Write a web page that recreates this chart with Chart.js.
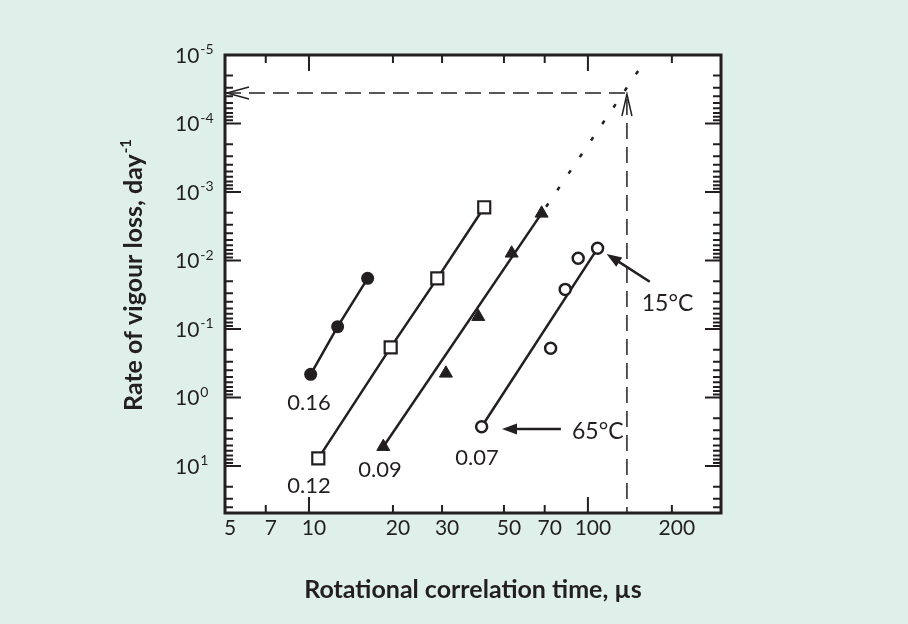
<!DOCTYPE html>
<html><head><meta charset="utf-8">
<style>
html,body{margin:0;padding:0;background:#dff0ea;}
#wrap{width:908px;height:624px;position:relative;}
</style>
<script src="https://cdn.jsdelivr.net/npm/chart.js@4.4.1/dist/chart.umd.min.js"></script>
</head><body><div id="wrap"><canvas id="c" width="908" height="624"></canvas></div>
<script>
// ---- tick values ----
const xTickValues = [5, 7, 10, 20, 30, 50, 70, 100, 200];
const xMajorTicks = [10, 100];
const xMinorTicks = [7, 20, 30, 50, 70, 200];
const yDecadeExponents = [-5, -4, -3, -2, -1, 0, 1];

// ---- series (x: rotational correlation time, µs; y: axis value) ----
const s016X = [10.14, 12.67, 16.23];
const s016Y = [0.458, 0.0925, 0.0182];
const s012X = [10.80, 19.63, 28.84, 42.49];
const s012Y = [7.73, 0.185, 0.0182, 0.00167];
const s009X = [18.47, 30.97, 40.45, 53.28, 68.23];
const s009Y = [5.22, 0.444, 0.0661, 0.00785, 0.00205];
const s009FitX = [18.47, 68.23];
const s009FitY = [5.22, 0.00205];
const s009ExtX = [68.23, 153.6];
const s009ExtY = [0.00205, 1.57e-5];
const s007X = [41.59, 73.5, 82.9, 92.3, 108.3];
const s007Y = [2.67, 0.191, 0.0264, 0.00929, 0.00664];
const s007FitX = [41.59, 108.3];
const s007FitY = [2.67, 0.00664];
const guideX = [5, 138, 138];
const guideY = [3.59e-5, 3.59e-5, 48.5];

// ---- text annotations ----
const seriesLabels = ['0.16', '0.12', '0.09', '0.07'];
const seriesLabelX = [10.0, 10.0, 17.97, 40.0];
const seriesLabelY = [1.18, 19.3, 11.4, 7.52];
const tempLabels = ['65°C', '15°C'];
const tempTextX = [87.7, 156];
const tempTextY = [3.19, 0.0432];
const tempArrowFromX = [80, 166.7];
const tempArrowFromY = [2.88, 0.0204];
const tempArrowToX = [49.2, 116.7];
const tempArrowToY = [2.88, 0.00803];

const X_MIN = 5, X_MAX = 300, Y_MIN = 1e-5, Y_MAX = 48.5;
const INK = '#231f20';
const FONT = "Lato, 'Open Sans', 'DejaVu Sans', sans-serif";
const pts = (xs, ys) => xs.map((x, i) => ({x, y: ys[i]}));

function arrowHead(ctx, fx, fy, tx, ty, len, half, filled) {
  const ang = Math.atan2(ty - fy, tx - fx);
  const bx = tx - Math.cos(ang) * len, by = ty - Math.sin(ang) * len;
  const px = -Math.sin(ang) * half, py = Math.cos(ang) * half;
  ctx.beginPath();
  ctx.moveTo(bx + px, by + py);
  ctx.lineTo(tx, ty);
  ctx.lineTo(bx - px, by - py);
  if (filled) { ctx.closePath(); ctx.fill(); } else ctx.stroke();
}

const decorations = {
  id: 'decorations',
  beforeDraw(chart) {
    const {ctx, chartArea: a} = chart;
    ctx.save();
    ctx.fillStyle = '#ffffff';
    ctx.fillRect(a.left, a.top, a.right - a.left, a.bottom - a.top);
    ctx.restore();
  },
  afterDatasetsDraw(chart) {
    const {ctx, chartArea: a, scales: {x, y}} = chart;
    ctx.save();
    ctx.strokeStyle = INK; ctx.fillStyle = INK;
    // inward tick marks
    ctx.lineWidth = 2;
    ctx.beginPath();
    yDecadeExponents.forEach(e => {
      const py = y.getPixelForValue(Math.pow(10, e));
      ctx.moveTo(a.left, py); ctx.lineTo(a.left + 16, py);
      ctx.moveTo(a.right, py); ctx.lineTo(a.right - 16, py);
      for (let m = 2; m <= 9; m++) {
        const v = m * Math.pow(10, e);
        if (v > Y_MAX) break;
        const q = y.getPixelForValue(v);
        ctx.moveTo(a.left, q); ctx.lineTo(a.left + 8, q);
        ctx.moveTo(a.right, q); ctx.lineTo(a.right - 8, q);
      }
    });
    xMajorTicks.forEach(v => {
      const px = x.getPixelForValue(v);
      ctx.moveTo(px, a.bottom); ctx.lineTo(px, a.bottom - 16);
      ctx.moveTo(px, a.top); ctx.lineTo(px, a.top + 16);
    });
    xMinorTicks.forEach(v => {
      const px = x.getPixelForValue(v);
      ctx.moveTo(px, a.bottom); ctx.lineTo(px, a.bottom - 8);
      ctx.moveTo(px, a.top); ctx.lineTo(px, a.top + 8);
    });
    ctx.stroke();
    // frame
    ctx.lineWidth = 3;
    ctx.strokeRect(a.left, a.top, a.right - a.left, a.bottom - a.top);

    // guide arrowheads (open)
    ctx.lineWidth = 1.5;
    const gx0 = x.getPixelForValue(guideX[0]), gy0 = y.getPixelForValue(guideY[0]);
    const gx1 = x.getPixelForValue(guideX[1]), gy1 = y.getPixelForValue(guideY[1]);
    const gy2 = y.getPixelForValue(guideY[2]);
    arrowHead(ctx, gx0 + 40, gy0, gx0 + 2, gy0, 22, 6, false);
    arrowHead(ctx, gx1, gy2, gx1, gy1 + 1, 22, 5, false);

    // temperature arrows (filled heads)
    ctx.lineWidth = 2.5;
    for (let i = 0; i < tempLabels.length; i++) {
      const fx = x.getPixelForValue(tempArrowFromX[i]), fy = y.getPixelForValue(tempArrowFromY[i]);
      const tx = x.getPixelForValue(tempArrowToX[i]), ty = y.getPixelForValue(tempArrowToY[i]);
      const ang = Math.atan2(ty - fy, tx - fx);
      ctx.beginPath(); ctx.moveTo(fx, fy);
      ctx.lineTo(tx - Math.cos(ang) * 10, ty - Math.sin(ang) * 10); ctx.stroke();
      arrowHead(ctx, fx, fy, tx, ty, 15, 5.5, true);
    }

    // texts
    ctx.font = `22px ${FONT}`;
    ctx.textBaseline = 'middle';
    ctx.textAlign = 'center';
    seriesLabels.forEach((t, i) => {
      ctx.fillText(t, x.getPixelForValue(seriesLabelX[i]), y.getPixelForValue(seriesLabelY[i]));
    });
    ctx.textAlign = 'left';
    ctx.font = `23px ${FONT}`;
    tempLabels.forEach((t, i) => {
      ctx.fillText(t, x.getPixelForValue(tempTextX[i]), y.getPixelForValue(tempTextY[i]));
    });

    // y tick labels: 10 with superscript exponent
    yDecadeExponents.forEach(e => {
      const py = y.getPixelForValue(Math.pow(10, e));
      ctx.font = `21px ${FONT}`;
      ctx.textBaseline = 'middle';
      ctx.textAlign = 'left';
      const lx = 175;
      ctx.fillText('10', lx, py + 1);
      const w = ctx.measureText('10').width;
      ctx.font = `14px ${FONT}`;
      ctx.textBaseline = 'alphabetic';
      ctx.fillText(e < 0 ? '-' + Math.abs(e) : String(e), lx + w + 1, py - 1);
    });

    // y axis title (rotated)
    ctx.save();
    ctx.translate(133, 275);
    ctx.rotate(-Math.PI / 2);
    const main = 'Rate of vigour loss, day';
    const sup = '-1';
    ctx.font = `bold 25px ${FONT}`;
    const mw = ctx.measureText(main).width;
    ctx.font = `bold 15px ${FONT}`;
    const sw = ctx.measureText(sup).width;
    const start = -(mw + sw + 1) / 2;
    ctx.font = `bold 25px ${FONT}`;
    ctx.textAlign = 'left';
    ctx.textBaseline = 'alphabetic';
    ctx.fillText(main, start, 9);
    ctx.font = `bold 15px ${FONT}`;
    ctx.fillText(sup, start + mw + 1, -2);
    ctx.restore();

    ctx.restore();
  }
};

const lineStyle = {showLine: true, borderColor: INK, borderWidth: 2.5, pointRadius: 0, pointHoverRadius: 0};

new Chart(document.getElementById('c'), {
  type: 'scatter',
  data: {
    datasets: [
      {label: '0.07 points', data: pts(s007X, s007Y), showLine: false, pointStyle: 'circle', pointRadius: 5.5,
       pointBackgroundColor: '#ffffff', pointBorderColor: INK, pointBorderWidth: 2.5},
      {label: '0.09 points', data: pts(s009X, s009Y), showLine: false, pointStyle: 'triangle', pointRadius: 7.5,
       pointBackgroundColor: INK, pointBorderColor: INK, pointBorderWidth: 1},
      {label: '0.12', data: pts(s012X, s012Y), showLine: true, borderColor: INK, borderWidth: 2.5,
       pointStyle: 'rect', pointRadius: 8.5, pointBackgroundColor: '#ffffff', pointBorderColor: INK, pointBorderWidth: 2.2},
      {label: '0.16', data: pts(s016X, s016Y), showLine: true, borderColor: INK, borderWidth: 2.5,
       pointStyle: 'circle', pointRadius: 6.5, pointBackgroundColor: INK, pointBorderColor: INK, pointBorderWidth: 0},
      {label: '0.07 fit', data: pts(s007FitX, s007FitY), ...lineStyle},
      {label: '0.09 fit', data: pts(s009FitX, s009FitY), ...lineStyle},
      {label: '0.09 extrapolation', data: pts(s009ExtX, s009ExtY), ...lineStyle, borderDash: [4, 16], borderDashOffset: -8},
      {label: 'guide', data: pts(guideX, guideY), ...lineStyle, borderWidth: 1.5, borderDash: [16, 8]}
    ]
  },
  options: {
    responsive: false,
    animation: false,
    layout: {padding: {left: 0, right: 187, top: 55, bottom: 0}},
    plugins: {legend: {display: false}, tooltip: {enabled: false}},
    scales: {
      x: {
        type: 'logarithmic', min: X_MIN, max: X_MAX, bounds: 'data',
        grid: {display: false, drawTicks: false}, border: {display: false},
        afterBuildTicks: s => { s.ticks = xTickValues.map(v => ({value: v})); },
        afterFit: s => { s.height = 111; },
        ticks: {autoSkip: false, maxRotation: 0, minRotation: 0, padding: 3, labelOffset: 5, color: INK,
                font: {family: FONT, size: 21}, callback: v => String(v)},
        title: {display: true, text: 'Rotational correlation time, µs', color: INK,
                font: {family: FONT, size: 25, weight: 'bold'}, padding: {top: 0, bottom: 19}}
      },
      y: {
        type: 'logarithmic', reverse: true, min: Y_MIN, max: Y_MAX, bounds: 'data',
        grid: {display: false, drawTicks: false}, border: {display: false},
        ticks: {display: false},
        afterFit: s => { s.width = 225; }
      }
    }
  },
  plugins: [decorations]
});
</script>
</body></html>
